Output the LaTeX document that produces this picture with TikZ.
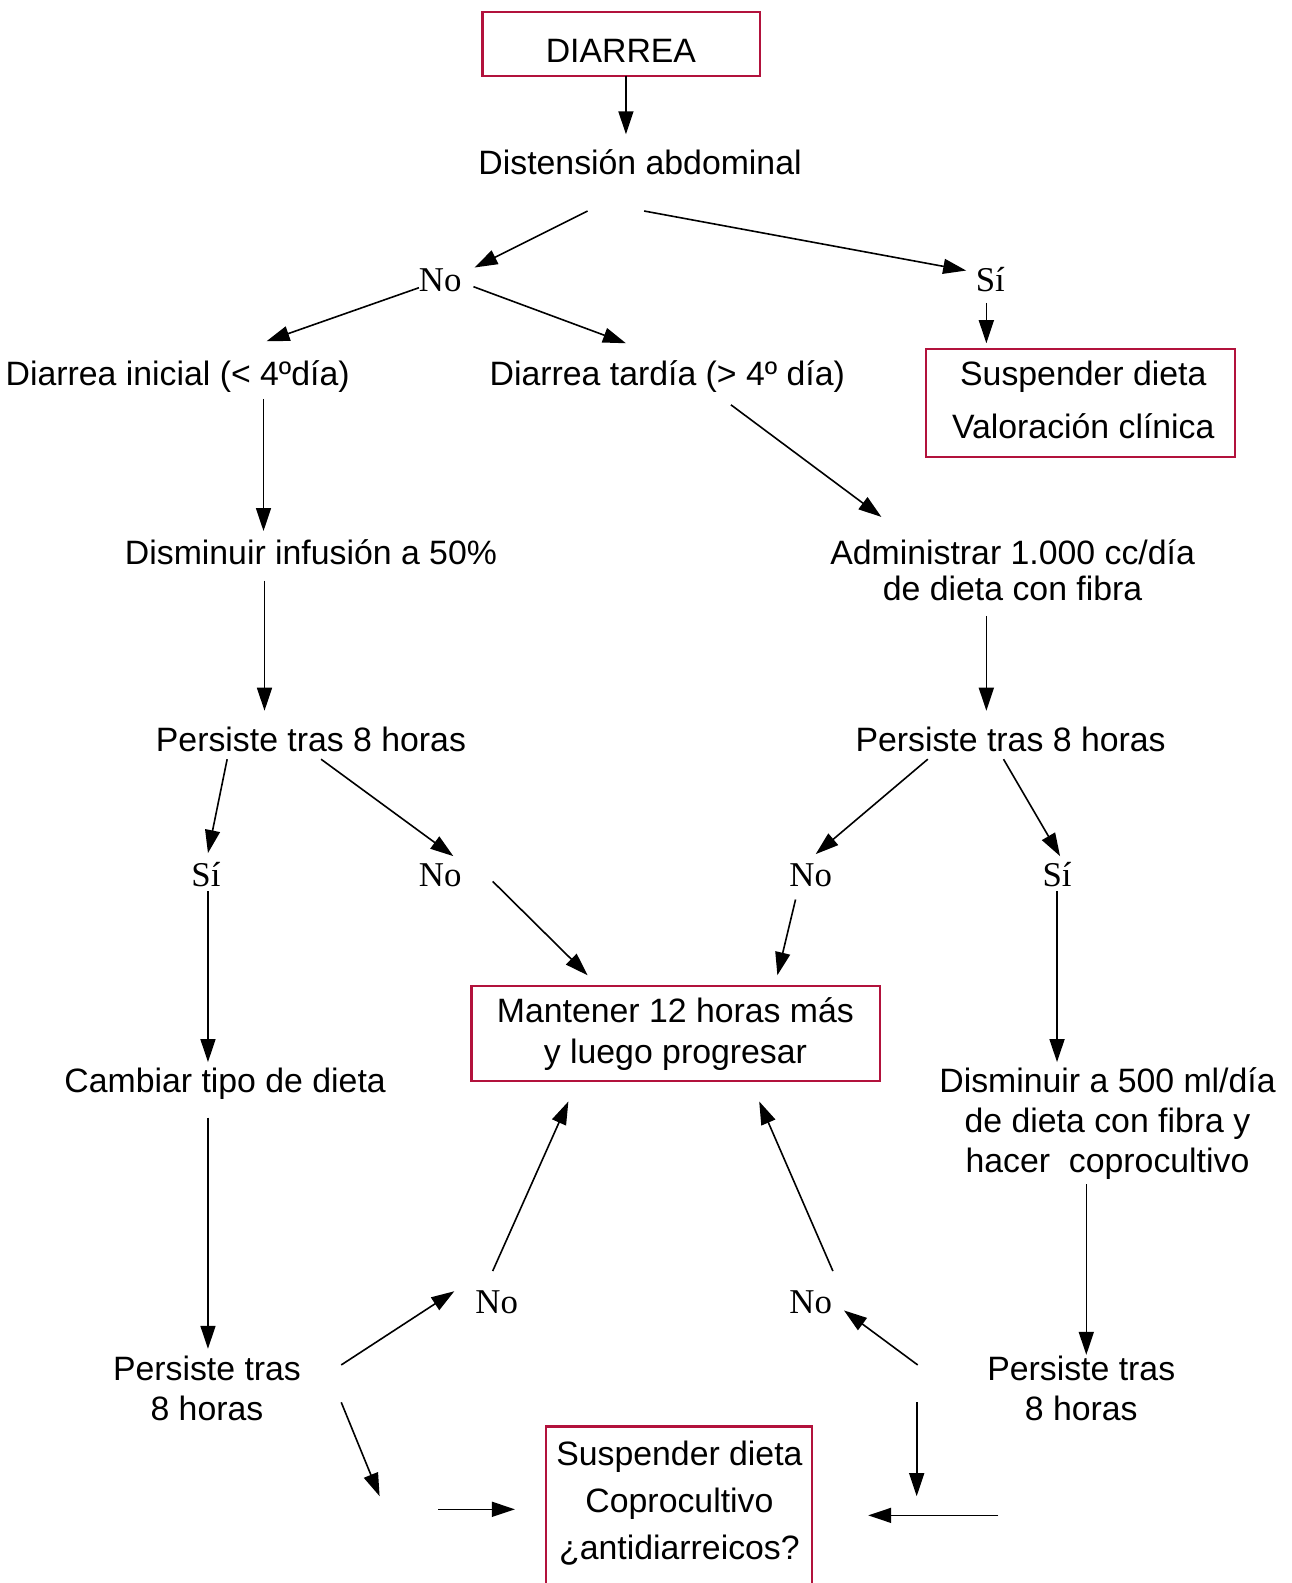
\documentclass[tikz,border=0pt]{standalone}
\usepackage{fontspec}
\setmainfont{Liberation Sans}
\newfontfamily\serifno{Liberation Serif}
\usetikzlibrary{arrows.meta}
\definecolor{boxred}{RGB}{178,18,60}
\newcommand\lne[1]{\rule{0pt}{12.1pt}\smash{#1}}
\tikzset{
  txt/.style={font=\fontsize{16.9}{18}\selectfont, inner sep=0pt, text height=12.1pt, text depth=0pt},
  mtxt/.style={font=\fontsize{16.9}{#1}\selectfont, inner sep=0pt, align=center},
  yesno/.style={font=\serifno\fontsize{17.4}{18}\selectfont, inner sep=0pt, text height=11.5pt, text depth=0pt},
  redbox/.style={draw=boxred, line width=1.1pt, inner sep=0pt},
  arr/.style={line width=0.8pt, -{Triangle[length=11.5pt,width=7.5pt]}}
}
\begin{document}
\begin{tikzpicture}[x=0.5047pt,y=-0.5047pt]
\useasboundingbox (0,0) rectangle (1279,1568);
% boxes
\node[redbox, minimum width=138.8pt, minimum height=31.8pt] (bdiarrea) at (615.5,43.5) {};
\node[txt] (diarrea) at (615,50) {DIARREA};
\node[redbox, minimum width=154.4pt, minimum height=54pt] (bsusp1) at (1070,399.5) {};
\node[mtxt=26.2pt] (susp1) at (1073,396) {\lne{Suspender dieta}\\\lne{Valoración clínica}};
\node[redbox, minimum width=204.4pt, minimum height=47.4pt] (bmant) at (669.5,1024) {};
\node[mtxt=20.2pt] (mant) at (669,1021) {\lne{Mantener 12 horas más}\\\lne{y luego progresar}};
\node[redbox, minimum width=132.7pt, minimum height=84.3pt] (bsusp2) at (672.5,1496.5) {};
\node[mtxt=23.5pt] (susp2) at (673,1486.5) {\lne{Suspender dieta}\\\lne{Coprocultivo}\\\lne{¿antidiarreicos?}};
% plain texts
\node[txt] (dist) at (634,161) {Distensión abdominal};
\node[txt] (inicial) at (176,370) {Diarrea inicial (< 4ºdía)};
\node[txt] (tardia) at (661,370) {Diarrea tardía (> 4º día)};
\node[txt] (dism) at (308,547) {Disminuir infusión a 50\%};
\node[mtxt=18.2pt] (admin) at (1003,565) {\lne{Administrar 1.000 cc/día}\\\lne{de dieta con fibra}};
\node[txt] (pers1) at (308,732) {Persiste tras 8 horas};
\node[txt] (pers2) at (1001,732) {Persiste tras 8 horas};
\node[txt] (cambiar) at (223,1070) {Cambiar tipo de dieta};
\node[mtxt=19.9pt] (dism500) at (1097,1109.5) {\lne{Disminuir a 500 ml/día}\\\lne{de dieta con fibra y}\\\lne{hacer\ \ coprocultivo}};
\node[mtxt=20.2pt] (pers3) at (205,1375) {\lne{Persiste tras}\\\lne{8 horas}};
\node[mtxt=20.2pt] (pers4) at (1071,1375) {\lne{Persiste tras}\\\lne{8 horas}};
% yes/no labels
\node[yesno] (no1) at (436,277) {No};
\node[yesno] (si1) at (981,277) {Sí};
\node[yesno] (si2) at (204,867) {Sí};
\node[yesno] (no2) at (436,867) {No};
\node[yesno] (no3) at (803,867) {No};
\node[yesno] (si3) at (1047,867) {Sí};
\node[yesno] (no4) at (492,1290) {No};
\node[yesno] (no5) at (803,1290) {No};
% connectors
\foreach \n/\xa/\ya/\xb/\yb in {
  a1/620/75/620/133,
  a2/582/209/470/265,
  a3/638/209/957/268,
  a4/977/300/977/340,
  a5/415/285/264/338,
  a6/469/284/620/340,
  a7/261/395/261/526,
  a8/724/401/873/512,
  a9/262/575/262/704,
  a10/977/610/977/704,
  a11/225/752/206/845,
  a12/318/752/449/848,
  a13/919/752/808/846,
  a14/994/752/1050/848,
  a15/206/883/206/1052,
  a16/488/873/582/966,
  a17/788/891/770/966,
  a18/1047/883/1047/1052,
  a19/206/1107/206/1336,
  a20/1076/1173/1076/1342,
  a21/338/1352/450/1279,
  a22/488/1259/563/1091,
  a23/909/1352/836/1298,
  a24/825/1259/752/1091,
  a25/338/1389/376/1482,
  a26/434/1495/510/1495,
  a27/908/1389/908/1482,
  a28/989/1501/860/1501}{
  \coordinate (\n s) at (\xa,\ya);
  \coordinate (\n e) at (\xb,\yb);
  \draw[arr] (\n s) -- (\n e);
}
\end{tikzpicture}
\end{document}
